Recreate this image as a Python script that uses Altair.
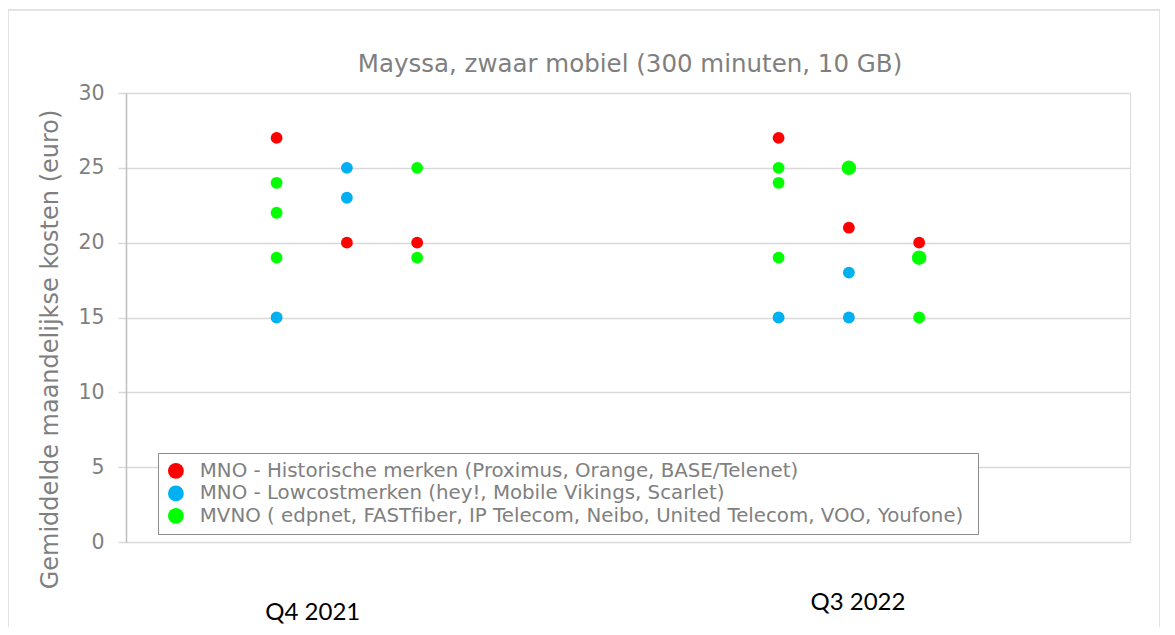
import altair as alt
import pandas as pd

# Data
series_names = [
    "MNO - Historische merken (Proximus, Orange, BASE/Telenet)",
    "MNO - Lowcostmerken (hey!, Mobile Vikings, Scarlet)",
    "MVNO ( edpnet,  FASTfiber, IP Telecom, Neibo, United Telecom, VOO, Youfone)",
]
series_colors = ["#ff0000", "#00b0f0", "#00ff00"]

# column slot (x position on the horizontal value axis), series index, monthly cost
slot_x = [15, 15, 15, 15, 15,
          22, 22, 22,
          29, 29, 29,
          65, 65, 65, 65, 65,
          72, 72, 72, 72, 72,
          79, 79, 79, 79]
series_idx = [0, 2, 2, 2, 1,
              1, 1, 0,
              2, 0, 2,
              0, 2, 2, 2, 1,
              2, 2, 0, 1, 1,
              0, 2, 2, 2]
cost = [27, 24, 22, 19, 15,
        25, 23, 20,
        25, 20, 19,
        27, 25, 24, 19, 15,
        25, 25, 21, 18, 15,
        20, 19, 19, 15]

quarter_labels = ["Q4 2021", "Q3 2022"]
quarter_label_x = [18.6, 72.9]
quarter_label_y = [-4.75, -4.1]

title_text = "Mayssa, zwaar mobiel (300 minuten, 10 GB)"
y_title = "Gemiddelde maandelijkse kosten (euro)"

df = pd.DataFrame({
    "x": slot_x,
    "serie": [series_names[i] for i in series_idx],
    "kosten": cost,
})
lab = pd.DataFrame({"label": quarter_labels, "x": quarter_label_x, "y": quarter_label_y})

W, H = 1004, 449

xscale = alt.Scale(domain=[0, 100], nice=False, zero=False)
yscale = alt.Scale(domain=[0, 30], nice=False)

frame = alt.Chart(pd.DataFrame({"a": [0]})).mark_rect(
    fill=None, stroke="#d9d9d9", strokeWidth=1.5
).encode(
    x=alt.value(-118), x2=alt.value(1034), y=alt.value(-83), y2=alt.value(570)
)

title = alt.Chart(pd.DataFrame({"t": [title_text]})).mark_text(
    font="DejaVu Sans", fontSize=24.5, color="#7f7f7f", align="center", baseline="middle"
).encode(
    x=alt.value(W / 2 + 2), y=alt.value(-28), text="t:N"
)

points = alt.Chart(df).mark_circle(opacity=1).encode(
    x=alt.X("x:Q", scale=xscale, axis=None),
    y=alt.Y(
        "kosten:Q", scale=yscale,
        axis=alt.Axis(
            values=[0, 5, 10, 15, 20, 25, 30], title=y_title,
            grid=True, gridColor="#d9d9d9", gridWidth=1.5,
            domainColor="#bfbfbf", domainWidth=1.5,
            tickColor="#d9d9d9", tickSize=8, tickWidth=1.5,
            labelFontSize=20.5, labelColor="#7f7f7f", labelFont="DejaVu Sans",
            labelPadding=14,
            titleFontSize=24, titleColor="#7f7f7f", titleFont="DejaVu Sans",
            titleFontWeight="normal", titleAngle=270, titleAlign="center",
            titleBaseline="middle", titleX=-76, titleY=256,
        ),
    ),
    color=alt.Color(
        "serie:N",
        scale=alt.Scale(domain=series_names, range=series_colors),
        legend=alt.Legend(
            title=None, orient="none", legendX=32, legendY=360,
            direction="vertical",
            strokeColor="#8c8c8c", fillColor="white",
            padding=8, symbolSize=250, symbolType="circle", symbolOpacity=1,
            labelFontSize=19.8, labelColor="#808080", labelFont="DejaVu Sans",
            labelLimit=1000, rowPadding=1.5, labelOffset=14,
        ),
    ),
    size=alt.Size("count():Q", scale=alt.Scale(domain=[1, 2], range=[140, 210]), legend=None),
)

labels = alt.Chart(lab).mark_text(
    font="Lato", fontSize=24, color="black", align="center", baseline="middle"
).encode(
    x=alt.X("x:Q", scale=xscale),
    y=alt.Y("y:Q", scale=yscale),
    text="label:N",
)

chart = alt.layer(frame, title, points, labels).properties(
    width=W, height=H,
    autosize=alt.AutoSizeParams(type="none"),
    padding={"left": 118, "top": 85, "right": 30, "bottom": 85},
).configure_view(stroke=None).configure_legend(strokeWidth=1.5).configure(background="white")

chart.save("out.html", embed_options={"renderer": "svg", "actions": False})
